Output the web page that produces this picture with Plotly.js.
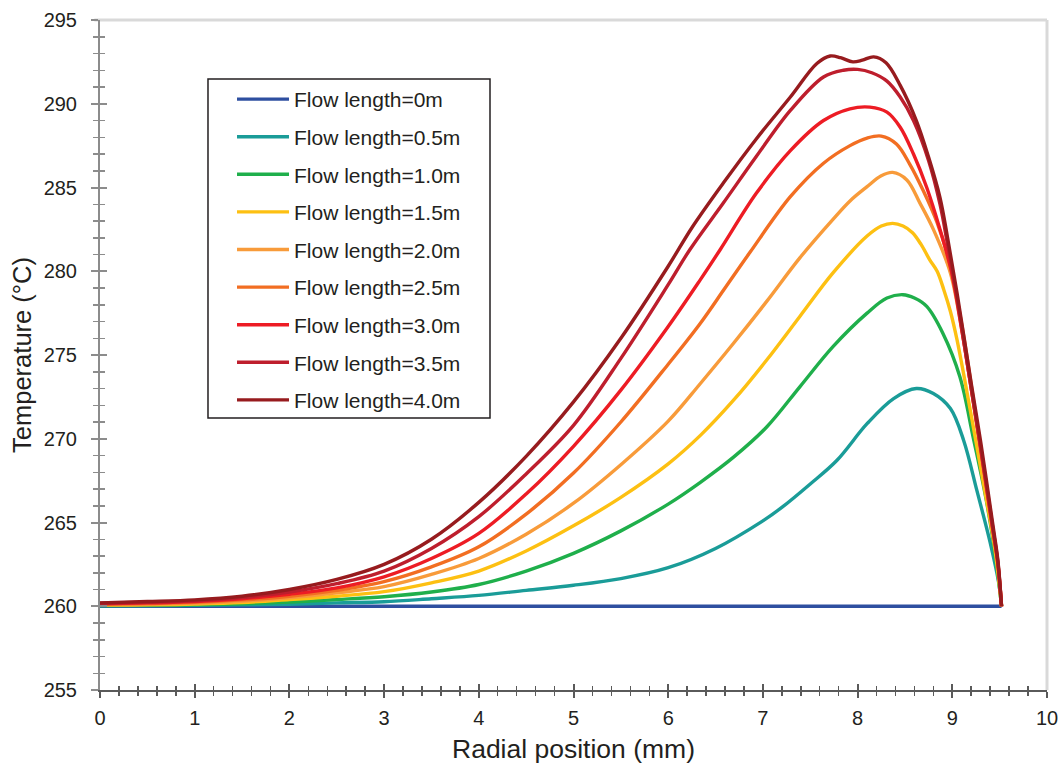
<!DOCTYPE html>
<html>
<head>
<meta charset="utf-8">
<script src="https://cdn.plot.ly/plotly-3.0.1.min.js"></script>
<style>html,body{margin:0;padding:0;background:#fff;}#chart{width:1063px;height:770px;}</style>
</head>
<body>
<div id="chart"></div>
<script>
// ---- data (radial position in mm, temperature in °C) ----
const seriesNames = ["Flow length=0m","Flow length=0.5m","Flow length=1.0m","Flow length=1.5m","Flow length=2.0m","Flow length=2.5m","Flow length=3.0m","Flow length=3.5m","Flow length=4.0m"];
const seriesColors = ["#2E4FA0","#1A9C98","#1FAF4B","#FDC012","#F89B3A","#F26E22","#ED1C24","#BE1E2D","#971B1E"];

const r_00 = [0, 9.52];
const t_00 = [260.0, 260.0];

const r_05 = [0,0.5,1,1.5,2,2.5,3,3.5,4,4.5,5,5.5,6,6.5,7.0,7.2,7.5,7.78,8.1,8.38,8.62,8.8,8.98,9.12,9.26,9.40,9.49,9.52];
const t_05 = [260.02,260.03,260.05,260.08,260.12,260.2,260.27,260.45,260.65,260.95,261.25,261.65,262.3,263.45,265.1,265.9,267.3,268.7,270.9,272.4,273.0,272.7,271.8,269.9,266.9,263.8,261.4,260.0];

const r_10 = [0,0.5,1,1.5,2,2.5,3,3.5,4,4.5,5,5.5,6,6.34,6.69,7.04,7.39,7.74,8.1,8.31,8.48,8.6,8.73,8.9,9.08,9.22,9.36,9.47,9.52];
const t_10 = [260.04,260.05,260.08,260.15,260.25,260.4,260.57,260.85,261.3,262.1,263.16,264.5,266.1,267.4,268.9,270.7,273.1,275.5,277.5,278.4,278.6,278.4,277.9,276.3,273.7,270.1,266.3,262.4,260.0];

const r_15 = [0,0.5,1,1.5,2,2.5,3,3.5,4,4.5,5,5.5,6,6.34,6.69,7.04,7.39,7.74,8.1,8.25,8.37,8.48,8.58,8.67,8.76,8.84,8.91,8.98,9.05,9.19,9.33,9.45,9.52];
const t_15 = [260.07,260.08,260.13,260.22,260.4,260.6,260.87,261.4,262.1,263.3,264.8,266.5,268.5,270.2,272.3,274.7,277.3,279.9,282.1,282.7,282.86,282.7,282.3,281.6,280.7,280.0,278.9,277.6,275.9,271.7,267.3,263.4,260.0];

const r_20 = [0,0.5,1,1.5,2,2.5,3,3.5,4,4.5,5,5.5,6,6.34,6.69,7.04,7.39,7.74,7.92,8.1,8.25,8.37,8.52,8.66,8.8,8.98,9.1,9.2,9.3,9.43,9.48,9.52];
const t_20 = [260.1,260.12,260.18,260.3,260.5,260.8,261.17,261.9,262.85,264.3,266.15,268.45,271.05,273.3,275.7,278.2,280.8,283.1,284.2,285.05,285.7,285.9,285.45,284.05,282.5,279.9,276.5,273.0,269.2,264.4,262.5,260.0];

const r_25 = [0,0.5,1,1.5,2,2.5,3,3.5,4,4.5,5,5.5,6,6.34,6.6,6.86,7.29,7.64,7.92,8.1,8.25,8.41,8.55,8.69,8.84,8.98,9.1,9.2,9.3,9.43,9.48,9.52];
const t_25 = [260.12,260.16,260.23,260.38,260.6,260.95,261.47,262.35,263.55,265.5,267.95,271.0,274.45,276.9,279.0,281.1,284.45,286.45,287.5,287.95,288.07,287.6,286.4,284.85,282.9,280.3,276.8,273.2,269.4,264.5,262.6,260.0];

const r_30 = [0,0.5,1,1.5,2,2.5,3,3.5,4,4.5,5,5.5,6,6.34,6.55,6.93,7.29,7.64,7.92,8.13,8.31,8.45,8.59,8.73,8.87,8.99,9.1,9.2,9.3,9.43,9.48,9.52];
const t_30 = [260.15,260.2,260.28,260.45,260.72,261.1,261.76,262.85,264.35,266.7,269.55,272.9,276.7,279.5,281.3,284.65,287.2,289.0,289.7,289.8,289.5,288.6,287.0,285.0,282.5,280.0,276.5,273.0,269.4,264.5,262.6,260.0];

const r_35 = [0,0.5,1,1.5,2,2.5,3,3.5,4,4.5,5,5.5,6,6.23,6.58,6.93,7.29,7.64,7.85,8.0,8.15,8.31,8.45,8.59,8.75,8.87,8.95,9.05,9.2,9.3,9.43,9.48,9.52];
const t_35 = [260.18,260.24,260.33,260.52,260.85,261.35,262.1,263.45,265.35,267.9,270.8,274.8,279.2,281.3,284.06,286.85,289.6,291.6,292.0,292.05,291.85,291.35,290.4,289.0,286.6,284.0,281.6,278.4,273.0,269.5,264.6,262.7,260.0];

const r_40 = [0,0.5,1,1.5,2,2.5,3,3.5,4,4.5,5,5.5,6,6.25,6.58,6.93,7.29,7.57,7.71,7.82,7.95,8.05,8.17,8.3,8.45,8.62,8.75,8.87,8.95,9.05,9.2,9.3,9.43,9.48,9.52];
const t_40 = [260.2,260.28,260.38,260.6,261.0,261.6,262.5,264.0,266.2,268.95,272.2,276.0,280.3,282.6,285.25,287.9,290.4,292.4,292.85,292.75,292.5,292.6,292.8,292.45,291.1,289.0,286.8,284.4,282.0,278.7,273.3,269.8,264.8,262.8,260.0];

const xTickVals = [0,1,2,3,4,5,6,7,8,9,10];
const yTickVals = [255,260,265,270,275,280,285,290,295];

const radii = [r_00,r_05,r_10,r_15,r_20,r_25,r_30,r_35,r_40];
const temps = [t_00,t_05,t_10,t_15,t_20,t_25,t_30,t_35,t_40];

// ---- build ----
const FONT = 'Arial, "Liberation Sans", sans-serif';
const traces = seriesNames.map((name, i) => ({
  type: 'scatter', mode: 'lines', name: name,
  x: radii[i], y: temps[i],
  legendgroup: 'g' + i,
  line: {color: seriesColors[i], width: 3.4, shape: i === 0 ? 'linear' : 'spline', smoothing: 1},
  hoverinfo: 'x+y+name'
}));
// helper (empty) trace so the overlay axes carrying the inner half of the ticks are drawn
traces.push({type:'scatter', mode:'lines', x:[], y:[], xaxis:'x2', yaxis:'y2', showlegend:false, hoverinfo:'skip'});

const axisCommon = {showgrid:false, zeroline:false, fixedrange:true};
const layout = {
  width: 1063, height: 770,
  margin: {l:100, r:16, t:20, b:80, pad:0},
  paper_bgcolor: '#ffffff', plot_bgcolor: '#ffffff',
  font: {family: FONT, color: '#231f20', size: 20},
  showlegend: true,
  legend: {
    x: 0.1394, y: 0.912, xanchor: 'left', yanchor: 'top',
    bgcolor: 'rgba(0,0,0,0)', borderwidth: 0,
    font: {family: FONT, size: 21, color: '#231f20'},
    traceorder: 'grouped', tracegroupgap: 7.3, itemwidth: 52
  },
  xaxis: Object.assign({}, axisCommon, {
    range: [0, 10], tickvals: xTickVals, ticks: 'outside', ticklen: 6, tickwidth: 2,
    tickcolor: '#5a5a5a', showline: true, linecolor: '#5a5a5a', linewidth: 2,
    minor: {dtick: 0.2, tick0: 0, ticks: 'outside', ticklen: 4, tickwidth: 1.5, tickcolor: '#5a5a5a'},
    tickfont: {size: 20, color: '#231f20'}, ticklabelstandoff: 3,
    title: {text: 'Radial position (mm)', font: {size: 26.5, color: '#231f20'}, standoff: 11}
  }),
  xaxis2: Object.assign({}, axisCommon, {
    overlaying: 'x', anchor: 'y', range: [0, 10], tickvals: xTickVals, ticks: 'inside', ticklen: 6, tickwidth: 2,
    tickcolor: '#5a5a5a', showline: false, showticklabels: false,
    minor: {dtick: 0.2, tick0: 0, ticks: 'inside', ticklen: 4, tickwidth: 1.5, tickcolor: '#5a5a5a'}
  }),
  yaxis: Object.assign({}, axisCommon, {
    range: [255, 295], tickvals: yTickVals, ticks: 'outside', ticklen: 6.5, tickwidth: 2,
    tickcolor: '#8c8c8c', showline: true, linecolor: '#8c8c8c', linewidth: 2.5,
    minor: {dtick: 1, tick0: 255, ticks: 'outside', ticklen: 5, tickwidth: 1.5, tickcolor: '#8c8c8c'},
    tickfont: {size: 20, color: '#231f20'}, ticklabelstandoff: 10,
    title: {text: 'Temperature (°C)', font: {size: 25.5, color: '#231f20'}, standoff: 5}
  }),
  yaxis2: Object.assign({}, axisCommon, {
    overlaying: 'y', anchor: 'x', side: 'left', range: [255, 295], tickvals: yTickVals, ticks: 'inside', ticklen: 6.5, tickwidth: 2,
    tickcolor: '#8c8c8c', showline: false, showticklabels: false,
    minor: {dtick: 1, tick0: 255, ticks: 'inside', ticklen: 5, tickwidth: 1.5, tickcolor: '#8c8c8c'}
  }),
  shapes: [
    {type:'line', xref:'paper', yref:'paper', x0:-0.006, x1:1, y0:1, y1:1, line:{color:'#d9d9d9', width:3}, layer:'below'},
    {type:'line', xref:'paper', yref:'paper', x0:1, x1:1, y0:0, y1:1, line:{color:'#d9d9d9', width:3}, layer:'below'},
    // legend frame
    {type:'rect', xref:'paper', yref:'paper', x0:0.11404, x1:0.41183, y0:0.40597, y1:0.91194, line:{color:'#231f20', width:1.5}, fillcolor:'rgba(0,0,0,0)', layer:'above'}
  ]
};

Plotly.newPlot('chart', traces, layout, {displayModeBar:false, staticPlot:true});
</script>
</body>
</html>
